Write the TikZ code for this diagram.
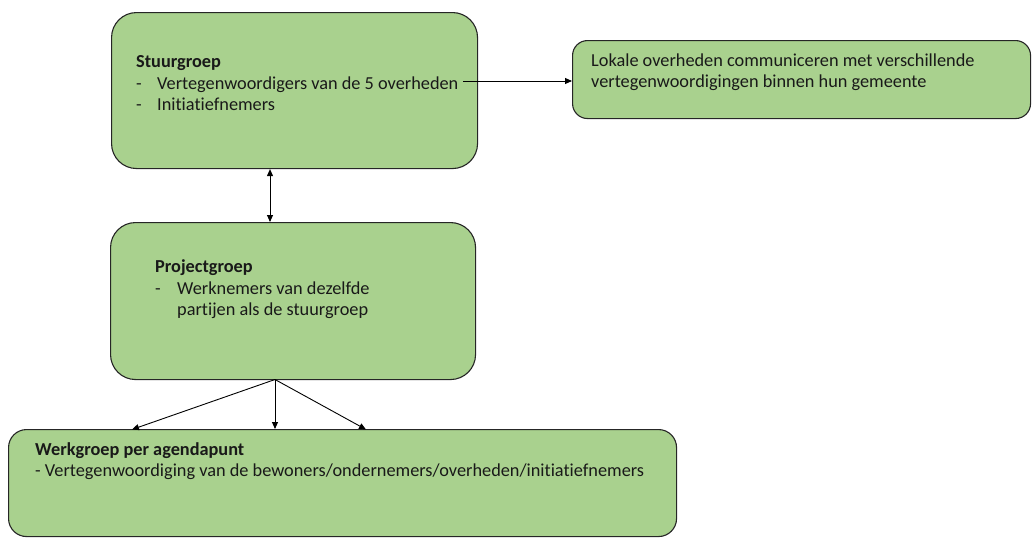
\documentclass[tikz,border=0pt]{standalone}
\usepackage{fontspec}
\setmainfont[Ligatures=NoCommon]{Carlito}
\usetikzlibrary{arrows.meta}
\definecolor{boxgreen}{HTML}{A9D18E}
\definecolor{boxline}{HTML}{262626}
\tikzset{
  grp/.style={draw=boxline, line width=1.1pt, fill=boxgreen, inner sep=0pt, anchor=north west},
  txt/.style={anchor=base west, inner sep=0pt, font=\fontsize{18.3}{21}\selectfont, text=black!90},
  conn/.style={draw=black, line width=0.9pt, -{Triangle[length=7pt,width=6pt]}},
  dconn/.style={draw=black, line width=0.9pt, {Triangle[length=7pt,width=6pt]}-{Triangle[length=7pt,width=6pt]}}
}
\begin{document}
\begin{tikzpicture}[x=1pt,y=-1pt]
\useasboundingbox (0,0) rectangle (1033,538);
% boxes
\node[grp, rounded corners=25pt, minimum width=366pt, minimum height=156pt] (stuur) at (111,12) {};
\node[grp, rounded corners=15pt, minimum width=458pt, minimum height=78pt] (lokaal) at (572,40) {};
\node[grp, rounded corners=25pt, minimum width=365pt, minimum height=157pt] (project) at (110,222) {};
\node[grp, rounded corners=18pt, minimum width=668pt, minimum height=107pt] (werk) at (8,429) {};
% texts
\node[txt] (s1) at (136,67) {\textbf{Stuurgroep}};
\node[txt] (s2) at (136,89) {\makebox[21pt][l]{-}Vertegenwoordigers van de 5 overheden};
\node[txt] (s3) at (136,110) {\makebox[21pt][l]{-}Initiatiefnemers};
\node[txt] (l1) at (591,66) {Lokale overheden communiceren met verschillende};
\node[txt] (l2) at (591,87) {vertegenwoordigingen binnen hun gemeente};
\node[txt] (p1) at (155,272) {\textbf{Projectgroep}};
\node[txt] (p2) at (155,294) {\makebox[22pt][l]{-}Werknemers van dezelfde};
\node[txt] (p3) at (177,315) {partijen als de stuurgroep};
\node[txt] (w1) at (35,455) {\textbf{Werkgroep per agendapunt}};
\node[txt] (w2) at (35,476) {- Vertegenwoordiging van de bewoners/ondernemers/overheden/initiatiefnemers};
% connectors
\coordinate (sout) at (463,81);
\draw[conn] (sout) -- (sout -| lokaal.west);
\coordinate (vx) at (270,0);
\draw[dconn] (vx |- stuur.south) -- (vx |- project.north);
\coordinate (pout) at (275,379.5);
\draw[conn] (pout) -- (132,429.5);
\draw[conn] (pout) -- (pout |- werk.north);
\draw[conn] (pout) -- (366,429.5);
\end{tikzpicture}
\end{document}
